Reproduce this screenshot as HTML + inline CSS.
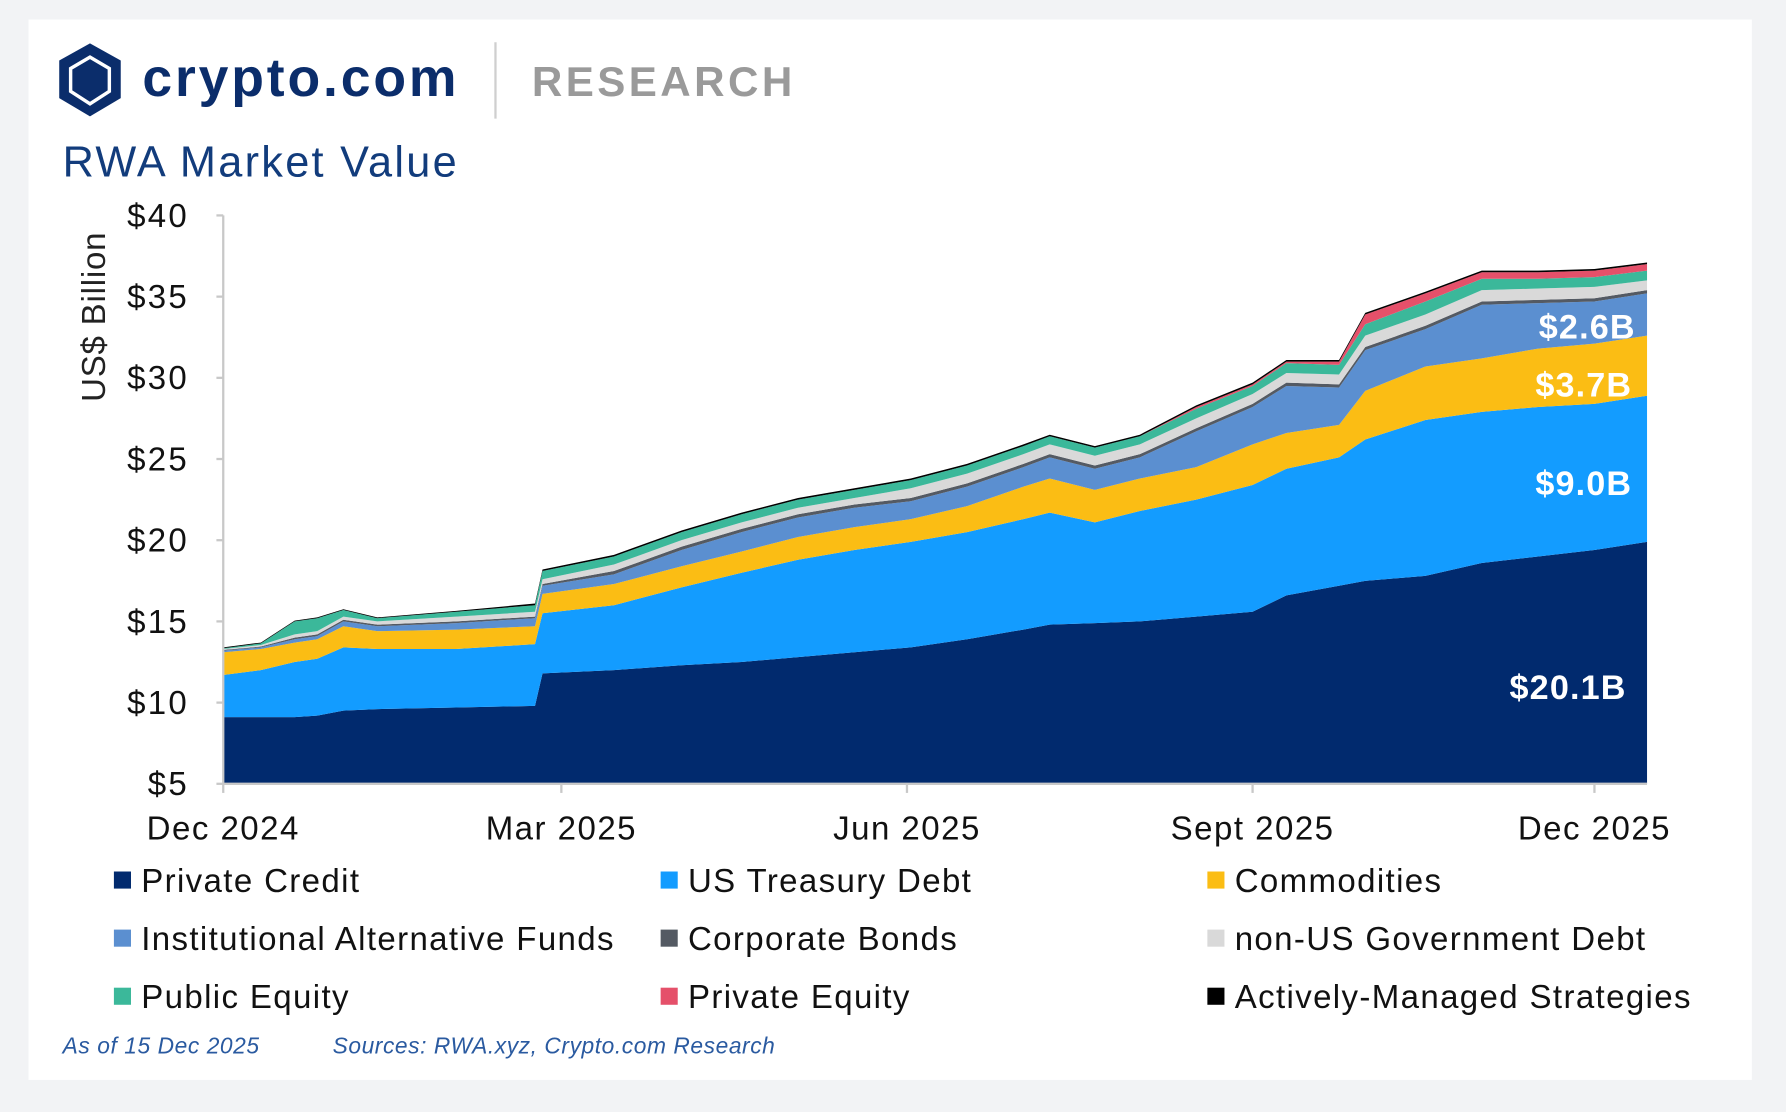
<!DOCTYPE html>
<html><head><meta charset="utf-8"><style>
html,body{margin:0;padding:0;background:#f2f3f5;}
svg{display:block;font-family:"Liberation Sans",sans-serif;}
</style></head><body>
<svg id="chart" width="1786" height="1112" viewBox="0 0 1568 976" xmlns="http://www.w3.org/2000/svg">
<rect x="0" y="0" width="1568" height="976" fill="#f2f3f5"/>
<rect x="25" y="17" width="1513" height="931" fill="#ffffff"/>
<g>
<polygon points="79,38 106,53 106,86 79,102 52,86 52,53" fill="#0b2d6b"/>
<polygon points="79,50 96,60 96,80 79,91 62,80 62,60" fill="none" stroke="#fff" stroke-width="3"/>
<text x="125" y="84" font-size="47" font-weight="bold" letter-spacing="2.5" fill="#0b2d6b">crypto.com</text>
</g>
<line x1="435" y1="37" x2="435" y2="104" stroke="#cfcfcf" stroke-width="2"/>
<text x="467" y="84" font-size="37" font-weight="bold" fill="#9a9a9a" letter-spacing="3">RESEARCH</text>
<text x="55" y="155" font-size="38" letter-spacing="2" fill="#123c7c">RWA Market Value</text>
<text transform="translate(92,278) rotate(-90)" text-anchor="middle" font-size="29" letter-spacing="0.7" fill="#222">US$ Billion</text>
<g id="plot"></g>
<g id="axes"></g>
<g id="legend"></g>
<text x="55" y="925" font-size="20" letter-spacing="0.5" font-style="italic" fill="#2a5aa0">As of 15 Dec 2025</text>
<text x="292" y="925" font-size="20" letter-spacing="0.5" font-style="italic" fill="#2a5aa0">Sources: RWA.xyz, Crypto.com Research</text>
</svg>
<script>
const days=[0,10,19,25,32,41,62,83,85,104,122,138,153,168,183,198,213,220,232,244,259,274,283,297,304,320,335,350,365,379];
const privateCredit=[9.1,9.1,9.1,9.2,9.5,9.6,9.7,9.8,11.8,12.0,12.3,12.5,12.8,13.1,13.4,13.9,14.5,14.8,14.9,15.0,15.3,15.6,16.6,17.2,17.5,17.8,18.6,19.0,19.4,19.9];
const usTreasury=[2.6,2.9,3.4,3.5,3.9,3.7,3.6,3.8,3.7,4.0,4.8,5.5,6.0,6.3,6.5,6.6,6.8,6.9,6.2,6.8,7.2,7.8,7.8,7.9,8.7,9.6,9.3,9.2,9.0,9.0];
const commodities=[1.4,1.3,1.2,1.2,1.3,1.1,1.2,1.1,1.2,1.3,1.3,1.3,1.4,1.4,1.4,1.6,2.0,2.1,2.0,2.0,2.0,2.5,2.2,2.0,3.0,3.3,3.3,3.6,3.7,3.7];
const instAltFunds=[0.1,0.1,0.2,0.2,0.3,0.3,0.4,0.5,0.5,0.6,1.0,1.2,1.2,1.2,1.1,1.2,1.2,1.3,1.3,1.3,2.2,2.3,2.9,2.3,2.5,2.3,3.3,2.8,2.6,2.6];
const corporateBonds=[0.05,0.05,0.1,0.1,0.1,0.1,0.1,0.1,0.1,0.2,0.2,0.2,0.2,0.2,0.2,0.2,0.2,0.2,0.2,0.2,0.2,0.2,0.2,0.2,0.2,0.2,0.2,0.2,0.2,0.2];
const nonUsGovDebt=[0.05,0.1,0.2,0.2,0.2,0.2,0.3,0.3,0.3,0.4,0.4,0.4,0.4,0.4,0.6,0.6,0.6,0.6,0.6,0.6,0.6,0.6,0.6,0.6,0.7,0.7,0.7,0.7,0.7,0.6];
const publicEquity=[0.05,0.1,0.8,0.8,0.4,0.2,0.3,0.4,0.5,0.5,0.5,0.5,0.5,0.5,0.5,0.5,0.5,0.5,0.5,0.5,0.6,0.5,0.6,0.6,0.7,0.8,0.7,0.6,0.6,0.6];
const privateEquity=[0,0,0,0,0,0,0,0,0,0,0,0,0,0,0,0,0,0,0,0,0.1,0.1,0.1,0.2,0.6,0.5,0.4,0.4,0.4,0.4];
const activeStrategies=[0.05,0.05,0.05,0.05,0.05,0.05,0.05,0.1,0.1,0.1,0.1,0.1,0.1,0.1,0.1,0.1,0.1,0.1,0.1,0.1,0.1,0.1,0.1,0.1,0.1,0.1,0.1,0.1,0.1,0.1];
const seriesNames=["Private Credit","US Treasury Debt","Commodities","Institutional Alternative Funds","Corporate Bonds","non-US Government Debt","Public Equity","Private Equity","Actively-Managed Strategies"];
const seriesData=[privateCredit,usTreasury,commodities,instAltFunds,corporateBonds,nonUsGovDebt,publicEquity,privateEquity,activeStrategies];
const colors=["#012a6e","#139cff","#fbbd14","#5b8fd0","#545a63","#d9d9d9","#3bb89a","#e5506a","#000000"];
const yTicks=[5,10,15,20,25,30,35,40];
const xTickDays=[0,90,182,274,365];
const xTickLabels=["Dec 2024","Mar 2025","Jun 2025","Sept 2025","Dec 2025"];
const endLabels=["$20.1B","$9.0B","$3.7B","$2.6B"];

const NS="http://www.w3.org/2000/svg";
const X0=196,X1=1446,DMAX=379,Y0=688,YT=189;
const xs=d=>X0+(X1-X0)*d/DMAX;
const ys=v=>Y0-(v-5)*(Y0-YT)/35;
function mk(t,a,p){const e=document.createElementNS(NS,t);for(const k in a)e.setAttribute(k,a[k]);p.appendChild(e);return e;}
const plot=document.getElementById('plot');
const cum=days.map(()=>0);
seriesData.forEach((s,i)=>{
  const lower=cum.slice();
  s.forEach((v,j)=>cum[j]+=v);
  const upper=cum.slice();
  let d="";
  days.forEach((dd,j)=>{d+=(j?"L":"M")+xs(dd).toFixed(1)+","+ys(Math.max(5,upper[j])).toFixed(1);});
  for(let j=days.length-1;j>=0;j--){d+="L"+xs(days[j]).toFixed(1)+","+ys(i===0?5:Math.max(5,lower[j])).toFixed(1);}
  const p=mk('path',{d:d+"Z",fill:colors[i]},plot);
  
  
});
const last=days.length-1;
let c=0;const mids=[];
for(let i=0;i<4;i++){const lo=c;c+=seriesData[i][last];mids.push((lo+c)/2);}
const lblX=[1428,1433,1433,1436];
const lblDy=[-4,23,27,21];
endLabels.forEach((t,i)=>{
  const e=mk('text',{x:lblX[i],y:ys(mids[i])+lblDy[i],'text-anchor':'end','font-size':30,'letter-spacing':1,'font-weight':'bold',fill:'#ffffff'},plot);
  e.textContent=t;
  
  
});
const axes=document.getElementById('axes');
const ya=mk('line',{x1:X0,y1:YT,x2:X0,y2:Y0,stroke:'#c8c8c8','stroke-width':2},axes);


const xa=mk('line',{x1:X0,y1:Y0,x2:X1,y2:Y0,stroke:'#c8c8c8','stroke-width':2},axes);


yTicks.forEach(v=>{
  mk('line',{x1:X0-6,y1:ys(v),x2:X0,y2:ys(v),stroke:'#c8c8c8','stroke-width':2},axes);
  const t=mk('text',{x:166,y:ys(v)+10,'text-anchor':'end','font-size':29,'letter-spacing':2,fill:'#111'},axes);
  t.textContent='$'+v;
  
  
});
xTickDays.forEach((d,i)=>{
  mk('line',{x1:xs(d),y1:Y0,x2:xs(d),y2:Y0+8,stroke:'#c8c8c8','stroke-width':2},axes);
  const t=mk('text',{x:xs(d),y:737,'text-anchor':'middle','font-size':29,'letter-spacing':1.3,fill:'#111'},axes);
  t.textContent=xTickLabels[i];
  
  
});
const leg=document.getElementById('legend');
const colX=[100,580,1060],rowY=[783,834,885];
seriesNames.forEach((n,i)=>{
  const cx=colX[i%3],cy=rowY[Math.floor(i/3)];
  const g=mk('g',{},leg);
  
  
  mk('rect',{x:cx,y:cy-18,width:15,height:15,fill:colors[i]},g);
  const t=mk('text',{x:cx+24,y:cy,'font-size':29,'letter-spacing':1.2,fill:'#111'},g);
  t.textContent=n;
});
</script>
</body></html>
